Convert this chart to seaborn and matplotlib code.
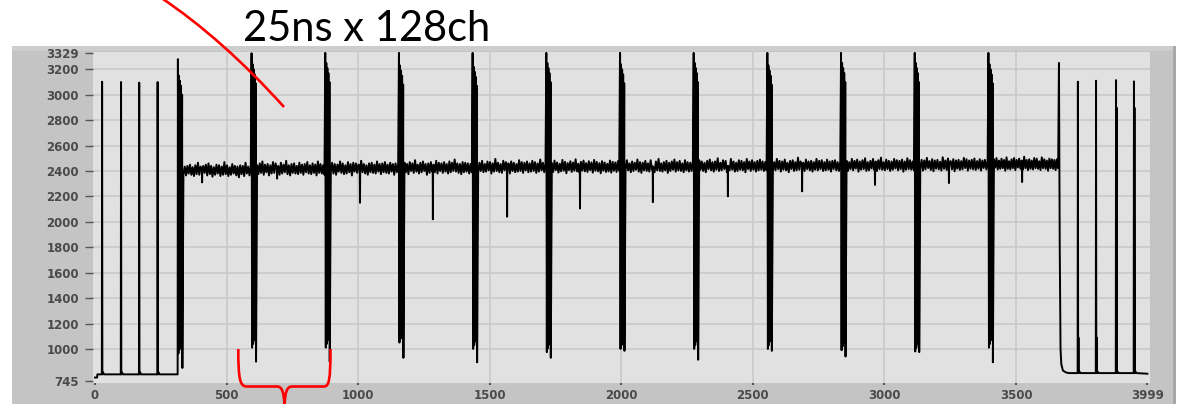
import numpy as np
import pandas as pd
import matplotlib
matplotlib.use("Agg")
import matplotlib.pyplot as plt
import seaborn as sns
from matplotlib.patches import Rectangle, PathPatch
from matplotlib.path import Path
from matplotlib.transforms import Affine2D

# ---------------- data ----------------
x_ticks = [0, 500, 1000, 1500, 2000, 2500, 3000, 3500, 3999]
y_ticks = [745, 1000, 1200, 1400, 1600, 1800, 2000, 2200, 2400, 2600, 2800, 3000, 3200, 3329]

lead_start_level = 775
lead_level = 800
lead_pulse_x = [27, 99, 168, 238]
lead_pulse_top = [3102, 3100, 3095, 3100]

spike_x = [315, 595, 875, 1155, 1435, 1715, 1995, 2275, 2555, 2835, 3115, 3395]
spike_top = [3280, 3326, 3329, 3329, 3329, 3329, 3329, 3329, 3329, 3329, 3329, 3329]
spike_shoulder = [3150, 3240, 3250, 3230, 3220, 3250, 3240, 3250, 3230, 3250, 3250, 3240]
spike_floor = [965, 1010, 1010, 1050, 1000, 975, 1000, 1000, 1000, 990, 980, 1010]
spike_bottom = [850, 900, 900, 930, 895, 930, 985, 915, 985, 940, 975, 895]

band_level = [2405, 2415, 2420, 2425, 2430, 2432, 2435, 2440, 2440, 2445, 2448, 2452]
band_noise = [
    [-35, 30, -40, 35, -25, 45, -35, 25, -45, 40, -30, 60, -35, 30, -40, 35, -20, 45, -40, 55, -30, 35, -50, 25, -35, 45,
     -25, 40, -45, 30, -35, 65, -30, 40, -45, 25, -35, 50, -25, 35, -40, 30, -55, 40, -30, 35, -45, 60, -25, 30, -40, 35],
    [30, -40, 45, -30, 60, -45, 35, -25, 40, -50, 30, -35, 55, -30, 45, -40, 25, -45, 50, -35, 35, -25, 65, -40, 30, -50,
     40, -30, 45, -35, 25, -40, 50, -30, 35, -45, 40, -25, 55, -35, 30, -40, 45, -30, 35, -50, 60, -30, 40, -35, 30, -45],
    [-30, 45, -40, 35, -50, 30, -25, 55, -35, 40, -45, 25, -40, 50, -30, 35, -55, 45, -25, 40, -35, 30, -45, 60, -30, 35,
     -40, 25, -50, 40, -30, 45, -35, 30, -40, 55, -25, 35, -45, 40, -30, 50, -35, 30, -40, 45, -25, 35, -50, 40, -30, 35],
    [40, -35, 30, -50, 45, -25, 35, -40, 60, -30, 25, -45, 40, -35, 50, -25, 30, -55, 35, -40, 45, -30, 25, -35, 55, -45,
     40, -25, 35, -40, 45, -30, 30, -45, 50, -35, 40, -25, 65, -30, 35, -40, 30, -50, 45, -35, 40, -30, 35, -45, 30, -35],
    [-45, 35, -30, 50, -40, 25, -35, 45, -25, 40, -50, 30, -35, 65, -30, 35, -40, 25, -45, 50, -25, 40, -35, 30, -50, 45,
     -30, 35, -40, 25, -35, 55, -30, 40, -45, 35, -25, 45, -40, 30, -35, 50, -30, 40, -45, 30, -35, 60, -25, 35, -40, 30],
    [30, -40, 50, -25, 35, -45, 25, -35, 55, -30, 40, -50, 30, -25, 45, -40, 35, -30, 60, -35, 25, -45, 40, -30, 50, -35,
     30, -40, 45, -25, 35, -45, 55, -30, 40, -35, 30, -50, 45, -30, 35, -40, 25, -35, 50, -45, 40, -30, 35, -40, 45, -30],
    [-35, 50, -30, 25, -45, 40, -35, 30, -25, 55, -40, 35, -50, 30, -30, 45, -35, 25, -40, 50, -25, 35, -45, 40, -30, 60,
     -35, 25, -40, 35, -30, 45, -50, 30, -35, 40, -25, 55, -40, 35, -30, 45, -35, 25, -45, 50, -30, 35, -40, 30, -35, 45],
    [45, -30, 35, -40, 25, -50, 40, -25, 50, -35, 30, -45, 35, -30, 60, -40, 25, -35, 45, -25, 40, -50, 30, -35, 55, -30,
     35, -45, 25, -40, 45, -30, 40, -35, 30, -50, 55, -25, 35, -40, 45, -30, 30, -45, 40, -35, 50, -30, 35, -40, 30, -35],
    [-40, 30, -35, 55, -25, 40, -45, 35, -30, 50, -35, 25, -50, 40, -25, 45, -40, 30, -35, 65, -30, 35, -45, 25, -40, 50,
     -25, 35, -35, 40, -45, 30, -30, 55, -35, 40, -25, 45, -40, 30, -35, 50, -30, 35, -45, 40, -25, 45, -35, 30, -40, 35],
    [35, -45, 25, -30, 50, -40, 35, -25, 45, -50, 30, -35, 40, -30, 55, -45, 25, -40, 35, -25, 50, -35, 30, -45, 40, -30,
     60, -35, 25, -40, 45, -30, 35, -45, 30, -35, 50, -25, 40, -40, 35, -30, 45, -50, 30, -35, 55, -30, 40, -35, 30, -40],
    [-30, 40, -45, 35, -35, 55, -25, 30, -40, 45, -50, 35, -30, 40, -35, 25, -45, 60, -30, 35, -40, 50, -25, 30, -35, 45,
     -50, 35, -30, 40, -40, 30, -35, 55, -25, 45, -45, 35, -30, 40, -35, 50, -40, 30, -30, 45, -45, 35, -25, 40, -35, 30],
    [40, -25, 50, -40, 30, -35, 45, -30, 35, -50, 55, -35, 25, -40, 40, -30, 50, -45, 35, -25, 45, -35, 30, -40, 60, -30,
     35, -45, 40, -35, 30, -40, 50, -30, 45, -35, 25, -45, 55, -30, 40, -35, 30, -50, 45, -30, 40, -35, 35, -45, 40, -30],
]

dip_x = [407, 692, 1007, 1284, 1566, 1843, 2120, 2405, 2687, 2964, 3245, 3523]
dip_y = [2310, 2340, 2150, 2020, 2040, 2105, 2155, 2200, 2240, 2290, 2305, 2313]

tail_drop_x = [3663, 3666, 3669, 3672, 3678, 3690, 3700]
tail_drop_y = [3250, 1800, 1000, 880, 830, 815, 810]
tail_level = 810
tail_pulse_x = [3735, 3804, 3880, 3948]
tail_pulse_top = [3102, 3110, 3115, 3105]
tail_pulse_inner = [1090, 1090, 2898, 2898]
end_x, end_y = 3999, 805

annotation = "25ns x 128ch"

# ---------------- build the trace ----------------
xs, ys = [], []


def add(x, y):
    xs.append(float(x))
    ys.append(float(y))


add(0, lead_start_level)
add(8, lead_start_level)
add(9, lead_level)
for p, t in zip(lead_pulse_x, lead_pulse_top):
    add(p - 1, lead_level)
    add(p, t)
    add(p + 1, lead_level)
    add(p + 4, lead_level + 15)
    add(p + 7, lead_level)
add(spike_x[0] - 1, lead_level)

gap_ends = spike_x[1:] + [tail_drop_x[0]]
for k, s in enumerate(spike_x):
    add(s, spike_top[k])
    add(s + 2, spike_floor[k])
    add(s + 4, spike_shoulder[k])
    add(s + 6, spike_floor[k] + 30)
    add(s + 8, spike_shoulder[k] - 40)
    add(s + 10, spike_floor[k] + 60)
    add(s + 12, spike_shoulder[k] - 80)
    add(s + 14, spike_floor[k] + 150)
    add(s + 16, spike_shoulder[k] - 150)
    add(s + 17, spike_bottom[k])
    gx = np.linspace(s + 21, gap_ends[k] - 3, len(band_noise[k]))
    gy = band_level[k] + np.array(band_noise[k])
    d = dip_x[k]
    pts = [(a, b) for a, b in zip(gx, gy) if abs(a - d) > 1.5]
    pts += [(d - 0.8, band_level[k]), (d, dip_y[k]), (d + 0.8, band_level[k])]
    pts.sort()
    for a, b in pts:
        add(a, b)

for a, b in zip(tail_drop_x, tail_drop_y):
    add(a, b)
for p, t, inner in zip(tail_pulse_x, tail_pulse_top, tail_pulse_inner):
    add(p - 1, tail_level)
    add(p, t)
    add(p + 1, tail_level)
    add(p + 2, inner)
    add(p + 3, tail_level)
    add(p + 6, tail_level + 12)
    add(p + 10, tail_level)
add(end_x, end_y)

df = pd.DataFrame({"sample": xs, "value": ys})

# ---------------- figure ----------------
W, H = 1185, 404
fig = plt.figure(figsize=(W / 100, H / 100), dpi=100)
fig.patch.set_facecolor("white")
px = Affine2D().scale(1 / W, -1 / H).translate(0, 1) + fig.transFigure

# gray instrument frame (behind the axes)
fig.patches.append(Rectangle((12, 46), 1164, 360, transform=px, facecolor="#c4c4c4",
                             edgecolor="none", zorder=-10))
fig.patches.append(Rectangle((12, 46), 1164, 5, transform=px, facecolor="#cdcdcd",
                             edgecolor="none", zorder=-9))
fig.patches.append(Rectangle((1173, 46), 3, 360, transform=px, facecolor="#a8a8a8",
                             edgecolor="none", zorder=-9))

ax_l, ax_r, ax_t, ax_b = 93, 1150, 51.5, 383
ax = fig.add_axes([ax_l / W, 1 - ax_b / H, (ax_r - ax_l) / W, (ax_b - ax_t) / H])
ax.set_zorder(1)
ax.set_facecolor("#e1e1e1")
for sp in ax.spines.values():
    sp.set_visible(False)

for gy_ in y_ticks[1:-1]:
    ax.axhline(gy_, color="#c9c9c9", lw=1.2, zorder=0)
for gx_ in x_ticks[1:-1]:
    ax.axvline(gx_, color="#c9c9c9", lw=1.2, zorder=0)

sns.lineplot(data=df, x="sample", y="value", ax=ax, color="black", lw=1.4,
             estimator=None, sort=False, zorder=3)

ax.set_xlim(-7.6, 4009)
ax.set_ylim(732, 3340)
ax.set_xlabel("")
ax.set_ylabel("")
ax.set_xticks(x_ticks)
ax.set_xticklabels([str(v) for v in x_ticks])
ax.set_yticks(y_ticks)
ax.set_yticklabels([str(v) for v in y_ticks])
ax.tick_params(axis="y", direction="out", length=6, width=1.0, color="#555555", pad=4,
               labelsize=8.5, labelcolor="#4a4a4a")
ax.tick_params(axis="x", direction="out", length=1.5, width=1.5, color="#555555", pad=3,
               labelsize=8.5, labelcolor="#4a4a4a")
for lab in ax.get_xticklabels() + ax.get_yticklabels():
    lab.set_fontweight("bold")
    lab.set_family("DejaVu Sans")

# annotation text
fig.text(243 / W, 1 - 40.7 / H, annotation, fontsize=30, family="Lato",
         ha="left", va="baseline", color="black", zorder=5)

# red curved pointer line
line_path = Path([(160, -3), (222.5, 38.7), (284, 107)],
                 [Path.MOVETO, Path.CURVE3, Path.CURVE3])
fig.patches.append(PathPatch(line_path, transform=px, fill=False, edgecolor="#ff0000",
                             lw=1.9, zorder=10))

# red curly brace
brace_verts = [
    (238.3, 349), (238.3, 380), (240, 386.5), (247, 386.5),
    (277, 386.5),
    (282, 386.5), (284, 392), (284.5, 406),
    (285, 392), (287, 386.5), (292, 386.5),
    (324, 386.5),
    (329, 386.5), (330.5, 380), (330.5, 349),
]
brace_codes = [Path.MOVETO, Path.CURVE4, Path.CURVE4, Path.CURVE4,
               Path.LINETO,
               Path.CURVE4, Path.CURVE4, Path.CURVE4,
               Path.CURVE4, Path.CURVE4, Path.CURVE4,
               Path.LINETO,
               Path.CURVE4, Path.CURVE4, Path.CURVE4]
fig.patches.append(PathPatch(Path(brace_verts, brace_codes), transform=px, fill=False,
                             edgecolor="#ff0000", lw=1.9, zorder=10))

fig.savefig("out.png", dpi=100)
